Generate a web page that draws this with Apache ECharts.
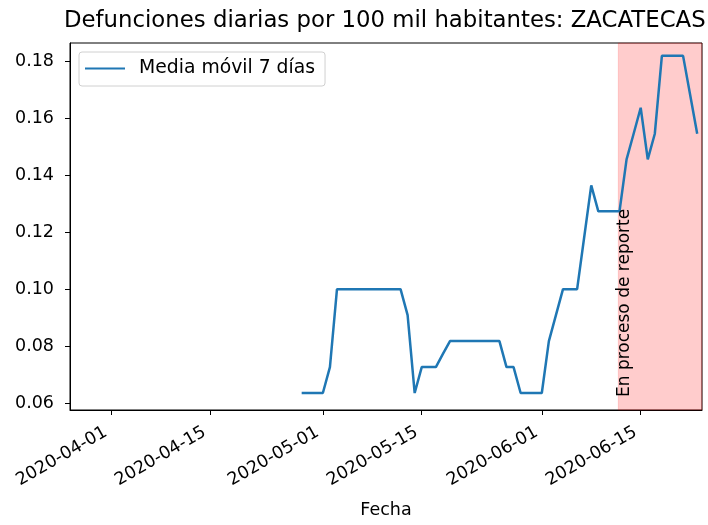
<!DOCTYPE html>
<html>
<head>
<meta charset="utf-8">
<title>Defunciones diarias ZACATECAS</title>
<script src="https://cdn.jsdelivr.net/npm/echarts@6/dist/echarts.min.js"></script>
<style>
  html, body { margin: 0; padding: 0; background: #fff; }
  #chart { width: 708px; height: 525px; }
</style>
</head>
<body>
<div id="chart"></div>
<script>
// media móvil de 7 días, defunciones por 100 mil habitantes
const fechas = [
  '2020-04-28', '2020-04-29', '2020-04-30', '2020-05-01', '2020-05-02', '2020-05-03',
  '2020-05-04', '2020-05-05', '2020-05-06', '2020-05-07', '2020-05-08', '2020-05-09',
  '2020-05-10', '2020-05-11', '2020-05-12', '2020-05-13', '2020-05-14', '2020-05-15',
  '2020-05-16', '2020-05-17', '2020-05-18', '2020-05-19', '2020-05-20', '2020-05-21',
  '2020-05-22', '2020-05-23', '2020-05-24', '2020-05-25', '2020-05-26', '2020-05-27',
  '2020-05-28', '2020-05-29', '2020-05-30', '2020-05-31', '2020-06-01', '2020-06-02',
  '2020-06-03', '2020-06-04', '2020-06-05', '2020-06-06', '2020-06-07', '2020-06-08',
  '2020-06-09', '2020-06-10', '2020-06-11', '2020-06-12', '2020-06-13', '2020-06-14',
  '2020-06-15', '2020-06-16', '2020-06-17', '2020-06-18', '2020-06-19', '2020-06-20',
  '2020-06-21', '2020-06-22', '2020-06-23'
]
const mediaMovil = [
  0.0636, 0.0636, 0.0636, 0.0636, 0.0727, 0.1,
  0.1, 0.1, 0.1, 0.1, 0.1, 0.1,
  0.1, 0.1, 0.1, 0.0909, 0.0636, 0.0727,
  0.0727, 0.0727, 0.0773, 0.0818, 0.0818, 0.0818,
  0.0818, 0.0818, 0.0818, 0.0818, 0.0818, 0.0727,
  0.0727, 0.0636, 0.0636, 0.0636, 0.0636, 0.0818,
  0.0909, 0.1, 0.1, 0.1, 0.1182, 0.1364,
  0.1273, 0.1273, 0.1273, 0.1273, 0.1455, 0.1545,
  0.1636, 0.1455, 0.1545, 0.1818, 0.1818, 0.1818,
  0.1818, 0.1682, 0.1545
]
const fechasTicks = ['2020-04-01', '2020-04-15', '2020-05-01', '2020-05-15', '2020-06-01', '2020-06-15']
const valoresTicks = [0.06, 0.08, 0.1, 0.12, 0.14, 0.16, 0.18]
const inicioReporte = '2020-06-11 20:00'
const textoReporte = 'En proceso de reporte'

const DIA = 864e5
const toTime = s => {
  const [f, h] = s.split(' ')
  const [y, m, d] = f.split('-').map(Number)
  const [hh, mm] = (h || '0:0').split(':').map(Number)
  return new Date(y, m - 1, d, hh, mm).getTime()
}
const base = toTime('2020-04-01')
const xMin = base - 5.8 * DIA
const xMax = base + 83.68 * DIA
const pad = n => (n < 10 ? '0' : '') + n
const fmtFecha = v => {
  const d = new Date(v)
  return d.getFullYear() + '-' + pad(d.getMonth() + 1) + '-' + pad(d.getDate())
}

const font = 'DejaVu Sans'
const chart = echarts.init(document.getElementById('chart'))
chart.setOption({
  animation: false,
  backgroundColor: '#fff',
  title: {
    text: 'Defunciones diarias por 100 mil habitantes: ZACATECAS',
    left: 64,
    top: 10,
    padding: 0,
    textStyle: { fontFamily: font, fontSize: 22.8, fontWeight: 'normal', color: '#000' },
  },
  legend: {
    left: 79,
    top: 52,
    orient: 'vertical',
    padding: [7, 10, 8, 6],
    borderColor: '#d0d0d0',
    borderWidth: 1,
    borderRadius: 3,
    backgroundColor: '#fff',
    itemWidth: 40,
    itemHeight: 2,
    icon: 'rect',
    textStyle: { fontFamily: font, fontSize: 18.8, color: '#000', padding: [0, 0, 0, 9] },
    data: ['Media móvil 7 días'],
  },
  grid: {
    left: 70,
    right: 6,
    top: 43,
    bottom: 115,
    show: true,
    borderColor: '#000',
    borderWidth: 1,
    containLabel: false,
  },
  xAxis: {
    type: 'value',
    min: xMin,
    max: xMax,
    name: 'Fecha',
    nameLocation: 'middle',
    nameGap: 91,
    nameTextStyle: { fontFamily: font, fontSize: 17.5, color: '#000' },
    axisLine: { show: true, onZero: false, lineStyle: { color: '#000', width: 1 } },
    axisTick: { show: true, length: 5, lineStyle: { color: '#000' }, customValues: fechasTicks.map(toTime) },
    axisLabel: {
      customValues: fechasTicks.map(toTime),
      rotate: 30,
      margin: 18,
      padding: [0, 6, 0, 0],
      fontFamily: font,
      fontSize: 17.5,
      color: '#000',
      formatter: v => fmtFecha(v),
    },
    splitLine: { show: false },
  },
  yAxis: {
    type: 'value',
    min: 0.05765,
    max: 0.18631,
    axisLine: { show: true, onZero: false, lineStyle: { color: '#000', width: 1 } },
    axisTick: { show: true, length: 5, lineStyle: { color: '#000' }, customValues: valoresTicks },
    axisLabel: {
      customValues: valoresTicks,
      margin: 16,
      fontFamily: font,
      fontSize: 17.5,
      color: '#000',
      formatter: v => v.toFixed(2),
    },
    splitLine: { show: false },
  },
  series: [
    {
      name: 'Media móvil 7 días',
      type: 'line',
      data: fechas.map((f, i) => [toTime(f), mediaMovil[i]]),
      showSymbol: false,
      symbol: 'none',
      lineStyle: { color: '#1f77b4', width: 2.5 },
      itemStyle: { color: '#1f77b4' },
      markArea: {
        silent: true,
        itemStyle: { color: 'rgba(255,0,0,0.2)', borderColor: 'rgba(255,0,0,0.15)', borderWidth: 1 },
        data: [[{ xAxis: toTime(inicioReporte) }, { xAxis: xMax }]],
      },
      markPoint: {
        silent: true,
        symbolSize: 0,
        data: [{ coord: [toTime('2020-06-12 18:30'), 0.0622], value: textoReporte }],
        label: {
          show: true,
          position: 'inside',
          rotate: 90,
          align: 'left',
          verticalAlign: 'middle',
          fontFamily: font,
          fontSize: 17,
          color: '#000',
          formatter: textoReporte,
        },
      },
    },
  ],
})
</script>
</body>
</html>
